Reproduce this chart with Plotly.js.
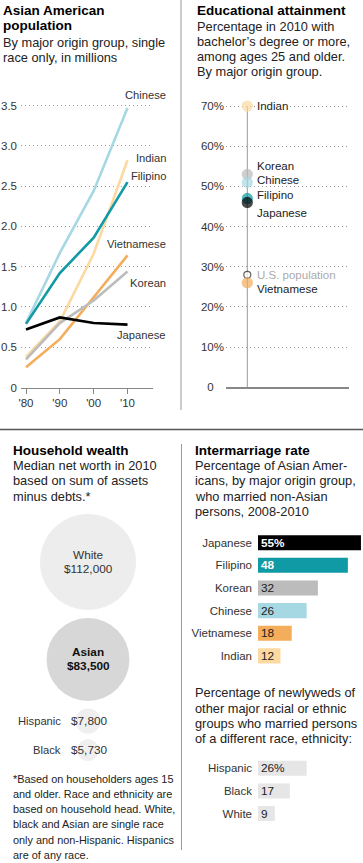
<!DOCTYPE html>
<html><head><meta charset="utf-8">
<script src="https://cdn.plot.ly/plotly-3.0.1.min.js"></script>
<style>html,body{margin:0;padding:0;background:#fff;}#chart{width:363px;height:863px;}</style>
</head><body><div id="chart"></div>
<script>
// ---------------- data ----------------
const years = [1980, 1990, 2000, 2010];
const yearLabels = ["'80", "'90", "'00", "'10"];
const popChinese    = [0.80, 1.67, 2.44, 3.47];
const popIndian     = [0.38, 0.82, 1.66, 2.82];
const popFilipino   = [0.79, 1.42, 1.86, 2.55];
const popVietnamese = [0.25, 0.60, 1.12, 1.64];
const popKorean     = [0.35, 0.80, 1.08, 1.44];
const popJapanese   = [0.72, 0.87, 0.80, 0.78];
const popTicks      = [0, 0.5, 1, 1.5, 2, 2.5, 3, 3.5];
const popTickLabels = ["0", "0.5", "1.0", "1.5", "2.0", "2.5", "3.0", "3.5"];

const eduGroups = ["Indian", "Korean", "Chinese", "Filipino", "Japanese", "U.S. population", "Vietnamese"];
const eduValues = [70, 53, 51, 47, 46, 28, 26];
const eduTicks  = [0, 10, 20, 30, 40, 50, 60, 70];

const wealthGroups = ["White", "Asian", "Hispanic", "Black"];
const wealthValues = [112000, 83500, 7800, 5730];

const marryGroups = ["Japanese", "Filipino", "Korean", "Chinese", "Vietnamese", "Indian"];
const marryValues = [55, 48, 32, 26, 18, 12];
const otherGroups = ["Hispanic", "Black", "White"];
const otherValues = [26, 17, 9];

// ---------------- styles / layout helpers ----------------
const W = 363, H = 863;
const px = v => v / W, py = v => 1 - v / H;
const dX = (a, b) => [a / W, b / W];
const dY = (t, b) => [1 - b / H, 1 - t / H];
const FONT = '"Liberation Sans", Arial, sans-serif';
const TXT = '#222';
const groupColor = {
  Chinese: '#a6d8e4', Indian: '#fcd9a0', Filipino: '#0f9aa5',
  Vietnamese: '#f3ad5b', Korean: '#bcbcbc', Japanese: '#000000',
  'U.S. population': '#ffffff'
};

const annotations = [];
function textLines(lines, x, y0, dy, size, opts) {
  opts = opts || {};
  lines.forEach((t, i) => {
    annotations.push({
      xref: 'paper', yref: 'paper', x: px(x), y: py(y0 + i * dy),
      text: opts.bold ? '<b>' + t + '</b>' : t,
      showarrow: false, xanchor: opts.anchor || 'left', yanchor: 'middle',
      font: {family: FONT, size: size, color: opts.color || TXT}, borderpad: 0
    });
  });
}

// Titles & subtitles
textLines(['Asian American', 'population'], 2, 10, 15.5, 13.5, {bold: true, color: '#000'});
textLines(['By major origin group, single', 'race only, in millions'], 2, 42, 15.3, 12.8);
textLines(['Educational attainment'], 196, 10, 15.5, 13.5, {bold: true, color: '#000'});
textLines(['Percentage in 2010 with', 'bachelor\u2019s degree or more,', 'among ages 25 and older.', 'By major origin group.'], 196, 26, 15.2, 12.8);
textLines(['Household wealth'], 12, 450, 15.5, 13.5, {bold: true, color: '#000'});
textLines(['Median net worth in 2010', 'based on sum of assets', 'minus debts.*'], 12, 465.5, 15.3, 12.8);
textLines(['*Based on householders ages 15', 'and older. Race and ethnicity are', 'based on household head. White,', 'black and Asian are single race', 'only and non-Hispanic. Hispanics', 'are of any race.'], 12, 778.5, 15.3, 10.9);
textLines(['Intermarriage rate'], 194, 450, 15.5, 13.5, {bold: true, color: '#000'});
textLines(['Percentage of Asian Amer-', 'icans, by major origin group,', 'who married non-Asian', 'persons, 2008-2010'], 194, 465.5, 15.3, 12.8);
textLines(['Percentage of newlyweds of', 'other major racial or ethnic', 'groups who married persons', 'of a different race, ethnicity:'], 194, 692.7, 15.4, 12.8);

// ---------------- panel 1: population lines ----------------
const popSeries = [
  ['Chinese', popChinese], ['Indian', popIndian], ['Filipino', popFilipino],
  ['Vietnamese', popVietnamese], ['Korean', popKorean], ['Japanese', popJapanese]
];
const popLabelPos = {Chinese: 95, Indian: 158, Filipino: 176, Vietnamese: 244, Korean: 283, Japanese: 335};
const traces = [];
popSeries.forEach(([name, vals]) => {
  traces.push({
    x: years, y: vals, mode: 'lines', name: name, xaxis: 'x', yaxis: 'y',
    line: {color: groupColor[name], width: 2.6}, hoverinfo: 'skip', cliponaxis: false
  });
  textLines([name], 167, popLabelPos[name], 0, 11.2, {anchor: 'right', color: '#333'});
});

// ---------------- panel 2: education dot plot ----------------
traces.push({
  x: [0, 0], y: [0, Math.max(...eduValues)], mode: 'lines', xaxis: 'x2', yaxis: 'y2',
  line: {color: '#999', width: 1}, hoverinfo: 'skip'
});
traces.push({
  x: eduValues.map(() => 0), y: eduValues, mode: 'markers', xaxis: 'x2', yaxis: 'y2',
  marker: {
    color: eduGroups.map(g => groupColor[g]),
    size: eduGroups.map(g => g === 'U.S. population' ? 7 : 10),
    line: {color: eduGroups.map(g => g === 'U.S. population' ? '#222' : groupColor[g]), width: 1.2}
  },
  hoverinfo: 'skip', cliponaxis: false
});
const eduLabelShift = {Indian: 0, Korean: 8, Chinese: 2, Filipino: 3, Japanese: -10.5, 'U.S. population': 0, Vietnamese: -6.5};
eduGroups.forEach((g, i) => {
  annotations.push({
    xref: 'x2', yref: 'y2', x: 0, y: eduValues[i], xshift: 9, yshift: eduLabelShift[g],
    text: g, showarrow: false, xanchor: 'left', yanchor: 'middle', borderpad: 0,
    bgcolor: g === 'Indian' ? '#fff' : 'rgba(0,0,0,0)',
    font: {family: FONT, size: 11.5, color: g === 'U.S. population' ? '#aaa' : TXT}
  });
});

// ---------------- panel 3: wealth bubbles ----------------
const maxDiam = 96, bubbleX = 88, bubbleTop = 514, bubbleGaps = [8, 7.5, 5.5];
const maxW = Math.max(...wealthValues);
const radii = wealthValues.map(v => maxDiam / 2 * Math.sqrt(v / maxW));
const centers = [];
let cursor = bubbleTop;
radii.forEach((r, i) => { centers.push(cursor + r); cursor += 2 * r + (bubbleGaps[i] || 0); });
traces.push({
  x: wealthValues.map(() => bubbleX), y: centers, mode: 'markers', xaxis: 'x3', yaxis: 'y3',
  marker: {
    size: wealthValues, sizemode: 'area', sizeref: 2 * maxW / (maxDiam * maxDiam),
    color: ['#e6e6e6', '#c6c6c6', '#e8e8e8', '#e8e8e8'], line: {width: 0}
  },
  hoverinfo: 'skip', cliponaxis: false
});
const fmtMoney = v => '$' + v.toLocaleString('en-US');
wealthGroups.forEach((g, i) => {
  const big = radii[i] > 30;
  const bold = g === 'Asian';
  if (big) {
    [[g, 7], [fmtMoney(wealthValues[i]), -7]].forEach(([t, s]) => annotations.push({
      xref: 'x3', yref: 'y3', x: bubbleX, y: centers[i], yshift: s, showarrow: false,
      text: bold ? '<b>' + t + '</b>' : t, xanchor: 'center', yanchor: 'middle', borderpad: 0,
      font: {family: FONT, size: 11.8, color: bold ? '#111' : '#333'}
    }));
  } else {
    annotations.push({
      xref: 'x3', yref: 'y3', x: bubbleX - 26, y: centers[i], showarrow: false, text: g,
      xanchor: 'right', yanchor: 'middle', borderpad: 0, font: {family: FONT, size: 11.2, color: '#333'}
    });
    annotations.push({
      xref: 'x3', yref: 'y3', x: bubbleX - 18, y: centers[i], showarrow: false, text: fmtMoney(wealthValues[i]),
      xanchor: 'left', yanchor: 'middle', borderpad: 0, font: {family: FONT, size: 11.8, color: '#333'}
    });
  }
});

// ---------------- panel 4: intermarriage bars ----------------
const darkBar = c => c === '#000000' || c === '#0f9aa5';
const marryColors = marryGroups.map(g => groupColor[g]);
traces.push({
  type: 'bar', orientation: 'h', x: marryValues, y: marryGroups, xaxis: 'x4', yaxis: 'y4',
  marker: {color: marryColors, line: {width: 0}},
  text: marryValues.map((v, i) => {
    const t = i === 0 ? v + '%' : String(v);
    return darkBar(marryColors[i]) ? '<b>' + t + '</b>' : t;
  }),
  textposition: 'inside', insidetextanchor: 'start', constraintext: 'none', textangle: 0,
  insidetextfont: {family: FONT, size: 11.8, color: marryColors.map(c => darkBar(c) ? '#fff' : '#222')},
  hoverinfo: 'skip'
});
traces.push({
  type: 'bar', orientation: 'h', x: otherValues, y: otherGroups, xaxis: 'x4', yaxis: 'y5',
  marker: {color: '#e6e6e6', line: {width: 0}},
  text: otherValues.map((v, i) => i === 0 ? v + '%' : String(v)),
  textposition: 'inside', insidetextanchor: 'start', constraintext: 'none', textangle: 0,
  insidetextfont: {family: FONT, size: 11.8, color: '#222'},
  hoverinfo: 'skip'
});

// ---------------- layout ----------------
const gridDash = '1px,3px';
const pxPerPct = 1.872;
const layout = {
  width: W, height: H, margin: {l: 0, r: 0, t: 0, b: 0, pad: 0},
  paper_bgcolor: '#fff', plot_bgcolor: 'rgba(0,0,0,0)', showlegend: false,
  font: {family: FONT, color: TXT},
  bargap: 1 - 15 / 22.6,
  xaxis: {
    domain: dX(21, 153), range: [1980 - 5 / 3.3833, 2010 + 25.5 / 3.3833],
    tickvals: years, ticktext: yearLabels, showgrid: false, zeroline: false,
    showline: true, linecolor: '#888', linewidth: 1, ticks: 'outside', ticklen: 5, tickcolor: '#888', tickwidth: 1,
    tickfont: {family: FONT, size: 11.5, color: '#333'}, anchor: 'y', fixedrange: true
  },
  yaxis: {
    domain: dY(101.5, 387.5), range: [0, 3.55], tickvals: popTicks, ticktext: popTickLabels,
    showgrid: true, gridcolor: '#999', gridwidth: 1, griddash: gridDash, zeroline: false,
    showline: false, ticks: '', ticklabelstandoff: 3,
    tickfont: {family: FONT, size: 11.5, color: '#333'}, anchor: 'x', fixedrange: true
  },
  xaxis2: {
    domain: dX(226, 349), range: [-21.3, 101.7], showgrid: false, zeroline: false,
    showticklabels: false, ticks: '', showline: true, linecolor: '#888', linewidth: 1.5, anchor: 'y2'
  },
  yaxis2: {
    domain: dY(98, 387.3), range: [0, 72], tickvals: eduTicks,
    ticktext: eduTicks.map(v => v === 0 ? '0<span style="color:rgba(0,0,0,0)">%</span>' : v + '%'),
    showgrid: true, gridcolor: '#999', gridwidth: 1, griddash: gridDash, zeroline: false,
    showline: false, ticks: '', ticklabelstandoff: 1,
    tickfont: {family: FONT, size: 11.5, color: '#333'}, anchor: 'x2'
  },
  xaxis3: {domain: dX(0, 180), range: [0, 180], visible: false, anchor: 'y3'},
  yaxis3: {domain: dY(505, 780), range: [780, 505], visible: false, anchor: 'x3'},
  xaxis4: {domain: dX(258, 363), range: [0, 105 / pxPerPct], visible: false, anchor: 'y4'},
  yaxis4: {
    domain: dY(531.4, 667.2), type: 'category', categoryarray: marryGroups, categoryorder: 'array',
    range: [marryGroups.length - 0.5, -0.5], showgrid: false, zeroline: false, showline: false, ticks: '',
    ticklabelstandoff: 5, tickfont: {family: FONT, size: 11.5, color: '#333'}, anchor: 'x4'
  },
  yaxis5: {
    domain: dY(757, 824.8), type: 'category', categoryarray: otherGroups, categoryorder: 'array',
    range: [otherGroups.length - 0.5, -0.5], showgrid: false, zeroline: false, showline: false, ticks: '',
    ticklabelstandoff: 5, tickfont: {family: FONT, size: 11.5, color: '#333'}, anchor: 'x4'
  },
  shapes: [
    {type: 'line', xref: 'paper', yref: 'paper', x0: px(181), x1: px(181), y0: py(0), y1: py(410), line: {color: '#999', width: 1}},
    {type: 'line', xref: 'paper', yref: 'paper', x0: 0, x1: 1, y0: py(429.5), y1: py(429.5), line: {color: '#555', width: 1.3}},
    {type: 'line', xref: 'paper', yref: 'paper', x0: px(181.5), x1: px(181.5), y0: py(444), y1: py(850), line: {color: '#999', width: 1}}
  ],
  annotations: annotations
};

Plotly.newPlot('chart', traces, layout, {staticPlot: true, displayModeBar: false});
</script>
</body></html>
